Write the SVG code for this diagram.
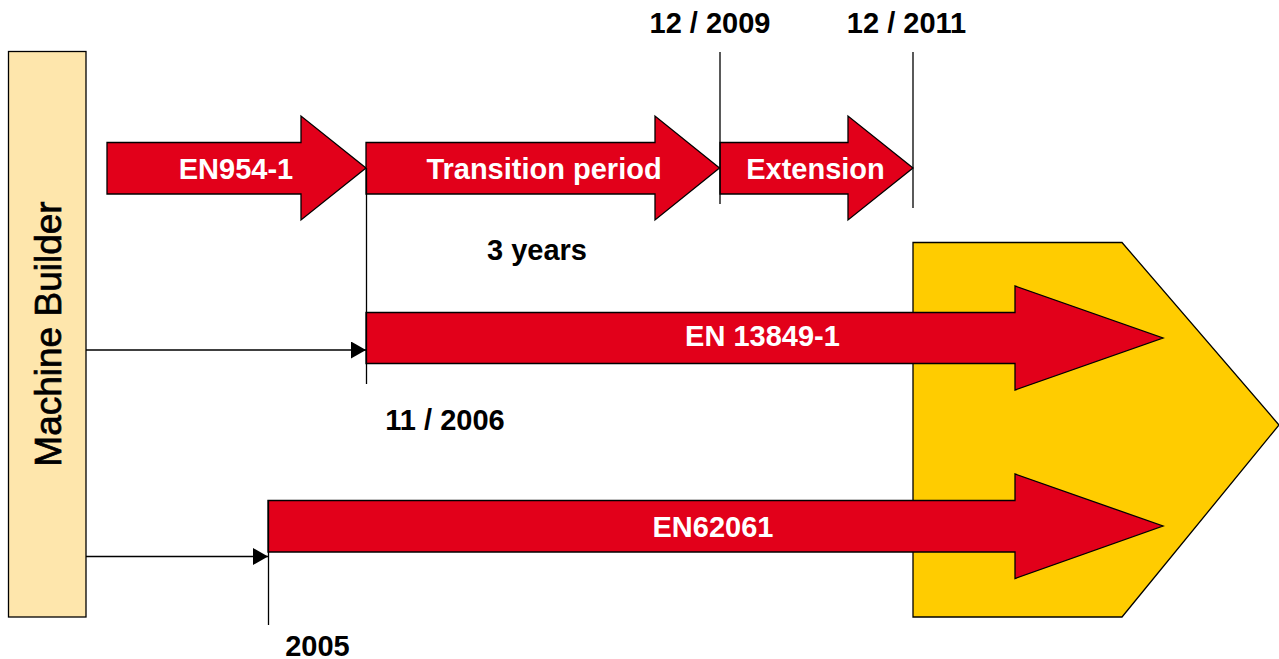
<svg xmlns="http://www.w3.org/2000/svg" width="1279" height="659" viewBox="0 0 1279 659">
<style>
.arr{fill:#E2001A;stroke:#000;stroke-width:1.3;stroke-linejoin:miter}
.lbl{font-family:"Liberation Sans",Arial,Helvetica,sans-serif;font-weight:bold;font-size:29px;text-anchor:middle}
.w{fill:#fff}
.k{fill:#000}
.ln{stroke:#000;stroke-width:1.3;fill:none}
</style>
<defs>
<marker id="ah" markerWidth="15" markerHeight="17" refX="15" refY="8.5" orient="auto" markerUnits="userSpaceOnUse">
<path d="M0,0 L15,8.5 L0,17 Z" fill="#000"/>
</marker>
</defs>
<rect width="1279" height="659" fill="#fff"/>
<g id="machine-builder">
<rect x="8.5" y="51.5" width="77.5" height="565.5" fill="#FEE6AC" stroke="#000" stroke-width="1.3"/>
<text transform="translate(61,334) rotate(-90)" text-anchor="middle" font-family="'Liberation Sans',Arial,Helvetica,sans-serif" font-size="37" fill="#000" stroke="#000" stroke-width="0.7">Machine Builder</text>
</g>
<g id="target">
<path d="M913,242.5 H1122 L1279,425 L1122,617 H913 Z" fill="#FFCC00" stroke="#000" stroke-width="1.3"/>
</g>
<g id="en954">
<path class="arr" d="M107,142.5 H301 V116 L366,168 L301,220 V194 H107 Z"/>
<text class="lbl w" x="236" y="178.5">EN954-1</text>
</g>
<g id="transition">
<path class="arr" d="M366,142.5 H655 V116 L719.5,168 L655,220 V194 H366 Z"/>
<text class="lbl w" x="544" y="179">Transition period</text>
</g>
<g id="extension">
<path class="arr" d="M720,142.5 H848 V116 L913,168 L848,220 V194 H720 Z"/>
<text class="lbl w" x="815.5" y="178.5">Extension</text>
</g>
<g id="en13849">
<path class="arr" d="M366,312.5 H1015 V286 L1163,338 L1015,390 V363.5 H366 Z"/>
<text class="lbl w" x="762.5" y="346">EN 13849-1</text>
</g>
<g id="en62061">
<path class="arr" d="M268,500.5 H1015 V474 L1163,526 L1015,578.5 V552 H268 Z"/>
<text class="lbl w" x="713" y="536.5">EN62061</text>
</g>
<g id="connectors">
<line class="ln" x1="720" y1="52" x2="720" y2="204"/>
<line class="ln" x1="913" y1="52" x2="913" y2="208"/>
<line class="ln" x1="366.5" y1="168" x2="366.5" y2="384"/>
<line class="ln" x1="268.5" y1="500" x2="268.5" y2="625"/>
<line class="ln" x1="86" y1="350" x2="366" y2="350" marker-end="url(#ah)"/>
<line class="ln" x1="86" y1="556.5" x2="268" y2="556.5" marker-end="url(#ah)"/>
</g>
<g id="labels">
<text class="lbl k" x="710" y="33">12 / 2009</text>
<text class="lbl k" x="906.5" y="33">12 / 2011</text>
<text class="lbl k" x="537" y="260">3 years</text>
<text class="lbl k" x="445" y="430">11 / 2006</text>
<text class="lbl k" x="317.5" y="655.5">2005</text>
</g>
</svg>
